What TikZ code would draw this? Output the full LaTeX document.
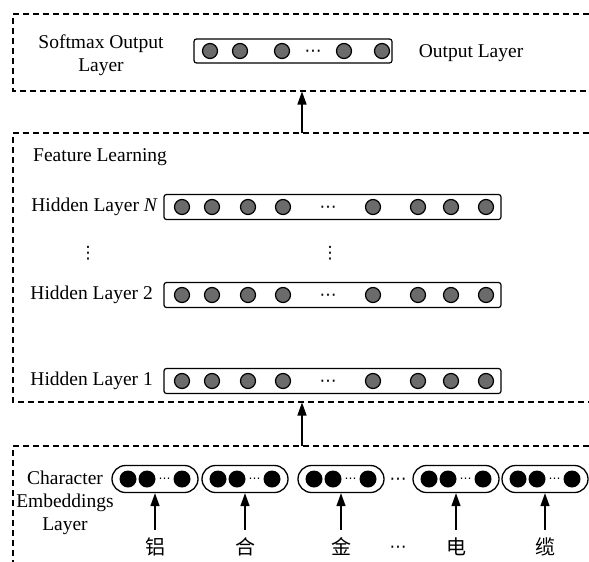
\documentclass[tikz,border=0pt]{standalone}
\usepackage{fontspec}
\setmainfont{Liberation Serif}
\newfontfamily\cjk{Noto Sans CJK SC}
\newfontfamily\dejavu{DejaVu Sans}
\usetikzlibrary{arrows.meta}
\begin{document}
\begin{tikzpicture}[x=1pt,y=-1pt,
  txt/.style={font=\fontsize{19.5}{23}\selectfont, inner sep=0pt, align=center},
  dashbox/.style={line width=1.2pt, dash pattern=on 6pt off 4pt},
  layerbox/.style={draw, line width=1.2pt, rounded corners=2.5pt, minimum width=337pt, minimum height=25pt, inner sep=0pt},
  outbox/.style={draw, line width=1.2pt, rounded corners=2.5pt, minimum width=198pt, minimum height=24pt, inner sep=0pt},
  hcirc/.style={circle, draw, line width=1.2pt, fill=black!58, minimum size=15pt, inner sep=0pt},
  capsule/.style={draw, line width=1.3pt, rounded corners=13.5pt, minimum width=86pt, minimum height=27pt, inner sep=0pt},
  ecirc/.style={circle, fill=black, minimum size=17pt, inner sep=0pt},
  dotstxt/.style={font=\dejavu\fontsize{17}{17}\selectfont, inner sep=0pt},
  smalldots/.style={font=\dejavu\fontsize{12}{12}\selectfont, inner sep=0pt},
  arr/.style={line width=1.4pt, -{Triangle[length=13pt,width=9pt]}},
  chr/.style={font=\cjk\fontsize{20}{20}\selectfont, inner sep=0pt}
]
\useasboundingbox (0,0) rectangle (589,562);
\fill[white] (0,0) rectangle (589,562);

% dashed regions
\draw[dashbox] (589,14) -- (13,14) -- (13,91) -- (589,91);
\draw[dashbox] (589,133) -- (13,133) -- (13,402) -- (589,402);
\draw[dashbox] (589,446) -- (13,446) -- (13,562);

\coordinate (topbot) at (302,91.5);
\coordinate (feattop) at (302,133);
\coordinate (featbot) at (302,402.5);
\coordinate (embtop) at (302,446);

% output layer
\node[txt] (softmax) at (101,55) {Softmax Output\\Layer};
\node[outbox] (outl) at (293,51) {};
\foreach \x/\n in {210/a,240/b,282/c,344/d,382/e}
  \node[hcirc] (o\n) at (\x,51) {};
\node[dotstxt, yshift=-2pt] (odots) at (313,51) {⋯};
\node[txt] (outlabel) at (471,53) {Output Layer};

\draw[arr] (feattop) -- (topbot);

% feature learning
\node[txt, anchor=west] (feat) at (33,157) {Feature Learning};
\foreach \y/\l/\lab/\xe in {207/N/{Hidden Layer \textit{N}}/158, 295/B/{Hidden Layer 2}/153, 381/A/{Hidden Layer 1}/153}{
  \node[txt, anchor=east] (lab\l) at (\xe,\y) {\lab};
  \node[layerbox] (box\l) at (332.5,\y) {};
  \foreach \x/\n in {182/a,212/b,248/c,283/d,373/e,418/f,451/g,486/h}
    \node[hcirc] (h\l\n) at (\x,\y) {};
  \node[dotstxt, yshift=-2pt] (hd\l) at (328,\y) {⋯};
}
\node[dotstxt] (vd1) at (88,253) {⋮};
\node[dotstxt] (vd2) at (330,253) {⋮};

\draw[arr] (embtop) -- (featbot);

% embeddings
\node[txt] (emb) at (65,503) {Character\\Embeddings\\Layer};
\foreach \cx/\n/\ch in {155/a/铝, 245/b/合, 341/c/金, 456/d/电, 545/e/缆}{
  \node[capsule] (cap\n) at (\cx,479) {};
  \node[ecirc] (e\n1) at (\cx-27,479) {};
  \node[ecirc] (e\n2) at (\cx-8,479) {};
  \node[ecirc] (e\n3) at (\cx+27,479) {};
  \node[smalldots, yshift=-1.5pt] (ed\n) at (\cx+9.5,479) {⋯};
  \node[chr] (c\n) at (\cx,547) {\ch};
  \coordinate (s\n) at (\cx,530);
  \draw[arr] (s\n) -- (cap\n.south);
}
\node[dotstxt, yshift=-2pt] (capdots) at (398,479) {⋯};
\node[dotstxt, yshift=-2pt] (chdots) at (398,547) {⋯};
\end{tikzpicture}
\end{document}
